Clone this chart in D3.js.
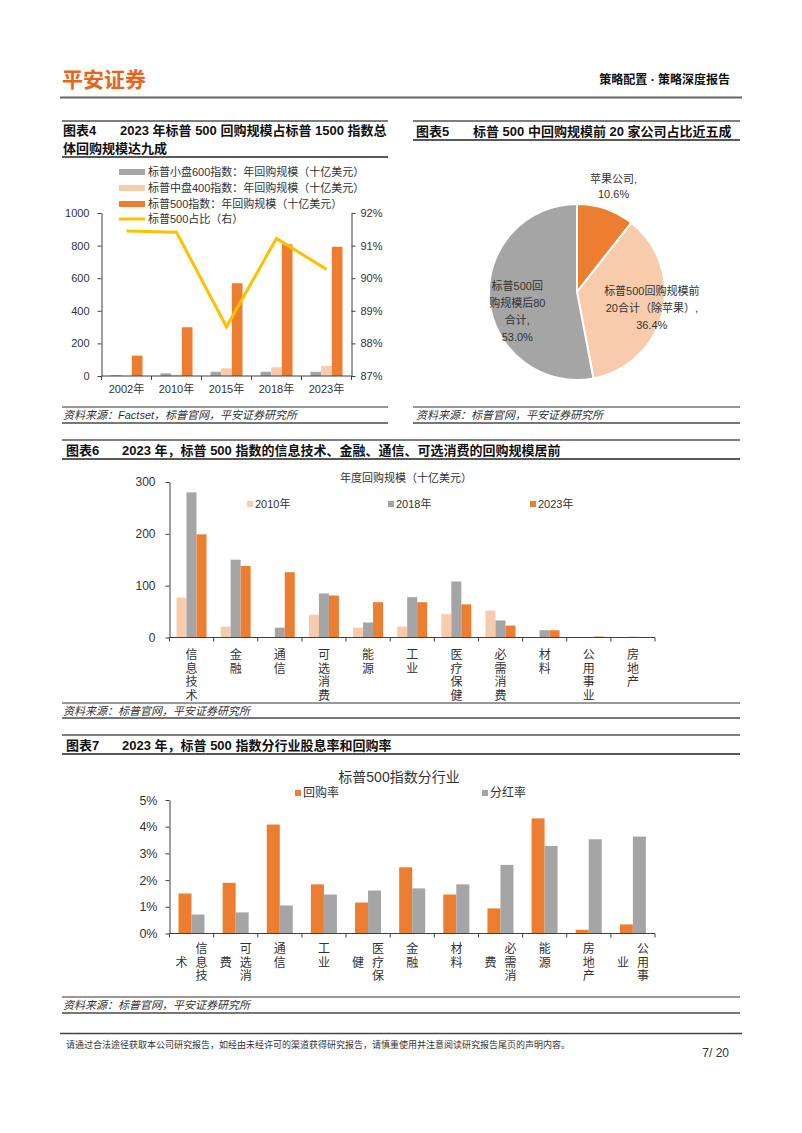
<!DOCTYPE html>
<html><head><meta charset="utf-8">
<script src="https://cdn.jsdelivr.net/npm/d3@7"></script>
<style>
body{margin:0;background:#fff;}
svg{display:block;font-family:"Liberation Sans","Noto Sans CJK SC",sans-serif;}
</style></head><body>
<svg id="page" width="802" height="1133"></svg>
<script>
// ---------- DATA ----------
// Chart 4
const c4Years = ["2002年","2010年","2015年","2018年","2023年"];
const c4Sp600 = [5, 16, 26, 26, 26];
const c4Sp400 = [2, 8, 47, 53, 61];
const c4Sp500 = [125, 299, 569, 808, 793];
const c4Share = [91.45, 91.41, 88.51, 91.22, 90.27];
const c4LeftTicks = [0, 200, 400, 600, 800, 1000];
const c4RightTicks = [87, 88, 89, 90, 91, 92];
const c4Legend = ["标普小盘600指数：年回购规模（十亿美元）","标普中盘400指数：年回购规模（十亿美元）","标普500指数：年回购规模（十亿美元）","标普500占比（右）"];
// Chart 5
const c5Names = ["苹果公司","标普500回购规模前20合计（除苹果）","标普500回购规模后80合计"];
const c5Values = [10.6, 36.4, 53.0];
const c5LabelLines = [["苹果公司,","10.6%"],["标普500回购规模前","20合计（除苹果）,","36.4%"],["标普500回","购规模后80","合计,","53.0%"]];
// Chart 6
const c6Cats = ["信息技术","金融","通信","可选消费","能源","工业","医疗保健","必需消费","材料","公用事业","房地产"];
const c6Y2010 = [77, 21, 0, 44, 19, 21, 45, 52, 1, 0.5, 0];
const c6Y2018 = [280, 150, 19, 85, 29, 78, 108, 33, 14, 0.5, 1.5];
const c6Y2023 = [199, 138, 126, 81, 68, 68, 64, 23, 14, 2, 0];
const c6Series = ["2010年","2018年","2023年"];
const c6Ticks = [0, 100, 200, 300];
// Chart 7
const c7Cats = ["信息技术","可选消费","通信","工业","医疗保健","金融","材料","必需消费","能源","房地产","公用事业"];
const c7Buyback = [1.50, 1.90, 4.08, 1.84, 1.16, 2.48, 1.46, 0.94, 4.31, 0.14, 0.34];
const c7Dividend = [0.71, 0.79, 1.05, 1.46, 1.61, 1.69, 1.84, 2.57, 3.28, 3.53, 3.63];
const c7Series = ["回购率","分红率"];
const c7Ticks = [0, 1, 2, 3, 4, 5];

// ---------- STYLE ----------
const ORANGE = "#ED7D31", PEACH = "#F8CBAD", GRAY = "#A5A5A5", GOLD = "#FFC000";
const AXIS = "#404040", TXT = "#333";
const svg = d3.select("#page");

// ---------- PAGE HEADER / FOOTER ----------
svg.append("text").attr("x", 62).attr("y", 79).attr("dominant-baseline","central")
  .attr("font-size", 21).attr("font-weight","bold").attr("fill","#E8641B").text("平安证券");
svg.append("text").attr("x", 730).attr("y", 80).attr("dominant-baseline","central").attr("text-anchor","end")
  .attr("font-size", 12).attr("font-weight","bold").attr("fill","#111").text("策略配置 · 策略深度报告");
svg.append("line").attr("x1",60).attr("x2",742).attr("y1",97.5).attr("y2",97.5).attr("stroke","#666").attr("stroke-width",2);

svg.append("line").attr("x1",60).attr("x2",742).attr("y1",1033.5).attr("y2",1033.5).attr("stroke","#444").attr("stroke-width",1.5);
svg.append("text").attr("x",66).attr("y",1045).attr("dominant-baseline","central").attr("font-size",9).attr("fill",TXT)
  .text("请通过合法途径获取本公司研究报告，如经由未经许可的渠道获得研究报告，请慎重使用并注意阅读研究报告尾页的声明内容。");
svg.append("text").attr("x",729).attr("y",1053).attr("dominant-baseline","central").attr("text-anchor","end").attr("font-size",12).attr("fill",TXT).text("7/ 20");

// ---------- helpers ----------
function titleBlock(x1, x2, yTop, yBot, num, numX, mainX, lines, y0, lh) {
  svg.append("line").attr("x1",x1).attr("x2",x2).attr("y1",yTop).attr("y2",yTop).attr("stroke","#555").attr("stroke-width",1.5);
  svg.append("line").attr("x1",x1).attr("x2",x2).attr("y1",yBot).attr("y2",yBot).attr("stroke","#222").attr("stroke-width",1.5);
  const g = svg.append("g").attr("font-size",13).attr("font-weight","bold").attr("fill","#111");
  g.append("text").attr("x",numX).attr("y",y0).attr("dominant-baseline","central").text(num);
  lines.forEach((t,i)=> g.append("text").attr("x", i===0?mainX:numX).attr("y", y0+i*lh).attr("dominant-baseline","central").attr("xml:space","preserve").text(t));
}
function sourceBlock(x1, x2, yTop, yText, yBot, textX, text) {
  svg.append("line").attr("x1",x1).attr("x2",x2).attr("y1",yTop).attr("y2",yTop).attr("stroke","#333").attr("stroke-width",1);
  svg.append("line").attr("x1",x1).attr("x2",x2).attr("y1",yBot).attr("y2",yBot).attr("stroke","#777").attr("stroke-width",2);
  svg.append("text").attr("x",textX).attr("y",yText).attr("dominant-baseline","central").attr("font-size",11)
    .attr("font-style","italic").attr("fill",TXT).text(text);
}
function styleAxis(g) {
  g.select(".domain").attr("stroke",AXIS);
  g.selectAll(".tick line").attr("stroke",AXIS);
  g.selectAll(".tick text").attr("fill",TXT).attr("font-size",11).attr("font-family",null);
  g.attr("font-family",null);
}
function catAxis(x, y, tickLen) {
  const g = svg.append("g");
  const r = x.range();
  g.append("line").attr("x1",r[0]).attr("x2",r[1]).attr("y1",y).attr("y2",y).attr("stroke",AXIS);
  const bounds = x.domain().map(d => x(d)).concat([r[1]]);
  g.selectAll("line.t").data(bounds).join("line").attr("class","t")
    .attr("x1",d=>d).attr("x2",d=>d).attr("y1",y).attr("y2",y+tickLen).attr("stroke",AXIS);
}
function vLabels(x, cats, y0, step, split, fs) {
  const g = svg.append("g").attr("font-size",fs).attr("fill",TXT).attr("text-anchor","middle");
  cats.forEach(c => {
    const cx = x(c) + x.bandwidth()/2;
    const ch = Array.from(c);
    const cols = (split && ch.length === 4)
      ? [{dx:10, chars:ch.slice(0,3), r0:0},{dx:-10, chars:ch.slice(3), r0:1}]
      : [{dx:0, chars:ch, r0:0}];
    cols.forEach(col => col.chars.forEach((t,i) =>
      g.append("text").attr("x",cx+col.dx).attr("y",y0+(col.r0+i)*step).attr("dominant-baseline","central").text(t)));
  });
}

// ---------- CHART 4 ----------
titleBlock(62, 388, 121, 157, "图表4", 63, 120, ["2023 年标普 500 回购规模占标普 1500 指数总","体回购规模达九成"], 130, 18.5);
sourceBlock(62, 388, 407, 415, 423, 63, "资料来源：Factset，标普官网，平安证券研究所");
{
  const x = d3.scaleBand().domain(c4Years).range([101.5, 351.5]);
  const keys = ["600","400","500"];
  const xi = d3.scaleBand().domain(keys).range([9, 41]);
  const yL = d3.scaleLinear().domain([0,1000]).range([376, 213]);
  const yR = d3.scaleLinear().domain([87,92]).range([376, 213]);
  const series = [{k:"600", v:c4Sp600, c:GRAY},{k:"400", v:c4Sp400, c:PEACH},{k:"500", v:c4Sp500, c:ORANGE}];
  series.forEach(s => {
    svg.append("g").selectAll("rect").data(c4Years).join("rect")
      .attr("x", (d)=> x(d)+xi(s.k)).attr("width", xi.bandwidth())
      .attr("y", (d,i)=> yL(s.v[i])).attr("height",(d,i)=> yL(0)-yL(s.v[i])).attr("fill", s.c);
  });
  const ga = svg.append("g").attr("transform","translate(101.5,0)")
    .call(d3.axisLeft(yL).tickValues(c4LeftTicks).tickSize(4).tickPadding(8).tickFormat(d3.format("d")).tickSizeOuter(0));
  styleAxis(ga);
  const gr = svg.append("g").attr("transform","translate(351.5,0)")
    .call(d3.axisRight(yR).tickValues(c4RightTicks).tickSize(4).tickPadding(5).tickFormat(d=>d+"%").tickSizeOuter(0));
  styleAxis(gr);
  catAxis(x, 376, 4);
  svg.append("g").attr("font-size",11).attr("fill",TXT).attr("text-anchor","middle")
    .selectAll("text").data(c4Years).join("text").attr("x",d=>x(d)+x.bandwidth()/2).attr("y",389)
    .attr("dominant-baseline","central").text(d=>d);
  const line = d3.line().x((d,i)=> x(c4Years[i]) + x.bandwidth()/2).y(d=> yR(d));
  svg.append("path").datum(c4Share).attr("d", line).attr("fill","none").attr("stroke",GOLD).attr("stroke-width",3);
  // legend
  const ly = [172, 188, 204, 219];
  const lg = svg.append("g").attr("font-size",11).attr("fill",TXT);
  [GRAY, PEACH, ORANGE].forEach((c,i) => lg.append("rect").attr("x",119).attr("y",ly[i]-3).attr("width",26).attr("height",6).attr("fill",c));
  lg.append("line").attr("x1",119).attr("x2",145).attr("y1",ly[3]).attr("y2",ly[3]).attr("stroke",GOLD).attr("stroke-width",3);
  c4Legend.forEach((t,i)=> lg.append("text").attr("x",148).attr("y",ly[i]).attr("dominant-baseline","central").text(t));
}

// ---------- CHART 5 ----------
titleBlock(413, 740, 121, 140, "图表5", 416, 473, ["标普 500 中回购规模前 20 家公司占比近五成"], 131, 0);
sourceBlock(413, 740, 407, 415, 423, 416, "资料来源：标普官网，平安证券研究所");
{
  const cx = 577, cy = 292, R = 88;
  const pie = d3.pie().sort(null).value(d=>d);
  const arcs = pie(c5Values);
  const arc = d3.arc().innerRadius(0).outerRadius(R);
  const colors = [ORANGE, PEACH, GRAY];
  const g = svg.append("g").attr("transform",`translate(${cx},${cy})`);
  g.selectAll("path").data(arcs).join("path").attr("d",arc).attr("fill",(d,i)=>colors[i])
    .attr("stroke","#fff").attr("stroke-width",2);
  const lr = [112, 77, 60];
  const lstep = [15, 17, 17];
  const ldy = [0, -2, 14];
  arcs.forEach((a,i) => {
    const c = d3.arc().innerRadius(lr[i]).outerRadius(lr[i]).centroid(a);
    const lines = c5LabelLines[i];
    const top = c[1] + ldy[i] - (lines.length-1)*lstep[i]/2;
    lines.forEach((t,j) => g.append("text").attr("x",c[0]).attr("y",top+j*lstep[i]).attr("text-anchor","middle")
      .attr("dominant-baseline","central").attr("font-size",11).attr("fill",TXT).text(t));
  });
}

// ---------- CHART 6 ----------
titleBlock(62, 740, 440, 459, "图表6", 66, 122, ["2023 年，标普 500 指数的信息技术、金融、通信、可选消费的回购规模居前"], 450, 0);
sourceBlock(62, 740, 703, 711, 718, 63, "资料来源：标普官网，平安证券研究所");
{
  const x = d3.scaleBand().domain(c6Cats).range([169.5, 655]);
  const xi = d3.scaleBand().domain(c6Series).range([7, 37]);
  const y = d3.scaleLinear().domain([0,300]).range([637.5, 482]);
  const vals = [c6Y2010, c6Y2018, c6Y2023];
  const colors = [PEACH, GRAY, ORANGE];
  c6Series.forEach((s,k) => {
    svg.append("g").selectAll("rect").data(c6Cats).join("rect")
      .attr("x", d=> x(d)+xi(s)).attr("width", xi.bandwidth())
      .attr("y",(d,i)=> y(vals[k][i])).attr("height",(d,i)=> y(0)-y(vals[k][i])).attr("fill",colors[k]);
  });
  const ga = svg.append("g").attr("transform","translate(169.5,0)")
    .call(d3.axisLeft(y).tickValues(c6Ticks).tickSize(4).tickPadding(10).tickSizeOuter(0));
  styleAxis(ga);
  ga.selectAll(".tick text").attr("font-size",12);
  catAxis(x, 637.5, 4);
  vLabels(x, c6Cats, 655, 13.5, false, 12);
  svg.append("text").attr("x",406).attr("y",478).attr("text-anchor","middle").attr("dominant-baseline","central")
    .attr("font-size",11).attr("fill",TXT).text("年度回购规模（十亿美元）");
  const lx = [247, 388, 530];
  const lg = svg.append("g").attr("font-size",11).attr("fill",TXT);
  c6Series.forEach((s,i)=>{
    lg.append("rect").attr("x",lx[i]).attr("y",504-3).attr("width",6).attr("height",6).attr("fill",colors[i]);
    lg.append("text").attr("x",lx[i]+8).attr("y",504).attr("dominant-baseline","central").text(s);
  });
}

// ---------- CHART 7 ----------
titleBlock(62, 740, 735, 754, "图表7", 66, 122, ["2023 年，标普 500 指数分行业股息率和回购率"], 745, 0);
sourceBlock(62, 740, 997, 1005, 1013, 63, "资料来源：标普官网，平安证券研究所");
{
  const x = d3.scaleBand().domain(c7Cats).range([169.5, 655]);
  const xi = d3.scaleBand().domain(c7Series).range([9, 35]);
  const y = d3.scaleLinear().domain([0,5]).range([933.5, 800]);
  const vals = [c7Buyback, c7Dividend];
  const colors = [ORANGE, GRAY];
  c7Series.forEach((s,k) => {
    svg.append("g").selectAll("rect").data(c7Cats).join("rect")
      .attr("x", d=> x(d)+xi(s)).attr("width", xi.bandwidth())
      .attr("y",(d,i)=> y(vals[k][i])).attr("height",(d,i)=> y(0)-y(vals[k][i])).attr("fill",colors[k]);
  });
  const ga = svg.append("g").attr("transform","translate(169.5,0)")
    .call(d3.axisLeft(y).tickValues(c7Ticks).tickSize(4).tickPadding(8).tickFormat(d=>d+"%").tickSizeOuter(0));
  styleAxis(ga);
  ga.selectAll(".tick text").attr("font-size",12.5);
  catAxis(x, 933.5, 4);
  vLabels(x, c7Cats, 949, 13.5, true, 12);
  svg.append("text").attr("x",399).attr("y",777).attr("text-anchor","middle").attr("dominant-baseline","central")
    .attr("font-size",14).attr("fill",TXT).text("标普500指数分行业");
  const lx = [295, 482];
  const lg = svg.append("g").attr("font-size",12).attr("fill",TXT);
  c7Series.forEach((s,i)=>{
    lg.append("rect").attr("x",lx[i]).attr("y",793-3).attr("width",6).attr("height",6).attr("fill",colors[i]);
    lg.append("text").attr("x",lx[i]+8).attr("y",793).attr("dominant-baseline","central").text(s);
  });
}
</script>
</body></html>
